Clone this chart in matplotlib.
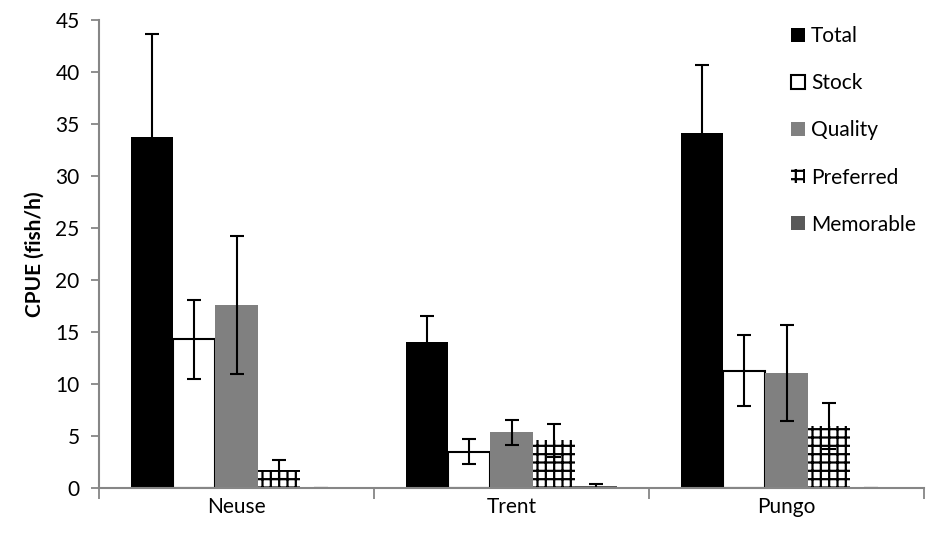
import matplotlib.pyplot as plt
import numpy as np

plt.rcParams['font.family'] = ['Lato', 'DejaVu Sans']
plt.rcParams['hatch.linewidth'] = 1.6

rivers = ['Neuse', 'Trent', 'Pungo']
series = ['Total', 'Stock', 'Quality', 'Preferred', 'Memorable']

total = [33.7, 14.0, 34.1]
total_err = [9.9, 2.5, 6.5]
stock = [14.3, 3.5, 11.3]
stock_err = [3.8, 1.2, 3.4]
quality = [17.6, 5.4, 11.1]
quality_err = [6.6, 1.2, 4.6]
preferred = [1.8, 4.6, 6.0]
preferred_err = [0.9, 1.6, 2.2]
memorable = [0.0, 0.2, 0.0]
memorable_err = [0.0, 0.2, 0.0]

values = [total, stock, quality, preferred, memorable]
errors = [total_err, stock_err, quality_err, preferred_err, memorable_err]
styles = [
    dict(color='black', edgecolor='black', linewidth=0),
    dict(color='white', edgecolor='black', linewidth=1.5),
    dict(color='#808080', edgecolor='#808080', linewidth=0),
    dict(color='white', edgecolor='black', linewidth=0, hatch='++'),
    dict(color='#595959', edgecolor='#595959', linewidth=0),
]

fig = plt.figure(figsize=(9.41, 5.42), dpi=100)
ax = fig.add_axes([0.1052, 0.099, 0.8768, 0.865])

x = np.arange(len(rivers))
w = 1 / 6.5
handles = []
for i, (vals, errs, st) in enumerate(zip(values, errors, styles)):
    pos = x + (i - 2) * w
    b = ax.bar(pos, vals, w, yerr=errs, label=series[i], zorder=2,
               error_kw=dict(ecolor='black', elinewidth=1.5, capsize=5, capthick=1.5, zorder=3),
               **st)
    handles.append(b.patches[0])

ax.set_xlim(-0.5, 2.5)
ax.set_ylim(0, 45)
ax.set_yticks(np.arange(0, 46, 5))
ax.set_xticks(x)
ax.set_xticklabels(rivers, fontsize=15)
ax.set_xticks([-0.5, 0.5, 1.5, 2.5], minor=True)
ax.tick_params(axis='x', which='major', length=0, pad=6)
ax.tick_params(axis='x', which='minor', length=8, color='#868686', width=1.3)
ax.tick_params(axis='y', length=6, color='#868686', width=1.3, labelsize=15, pad=8)

for s in ['top', 'right']:
    ax.spines[s].set_visible(False)
for s in ['left', 'bottom']:
    ax.spines[s].set_color('#868686')
    ax.spines[s].set_linewidth(1.5)
    ax.spines[s].set_zorder(4)

ax.set_ylabel('CPUE (fish/h)', fontsize=15, fontweight='bold', labelpad=8)

fig.legend(handles=handles, labels=series, loc='upper left',
           bbox_to_anchor=(783 / 941, 1 - 18 / 542), frameon=False,
           fontsize=15, labelspacing=1.3, handlelength=0.65, handleheight=0.65,
           handletextpad=0.3, borderaxespad=0)

fig.savefig('out.png', dpi=100)
